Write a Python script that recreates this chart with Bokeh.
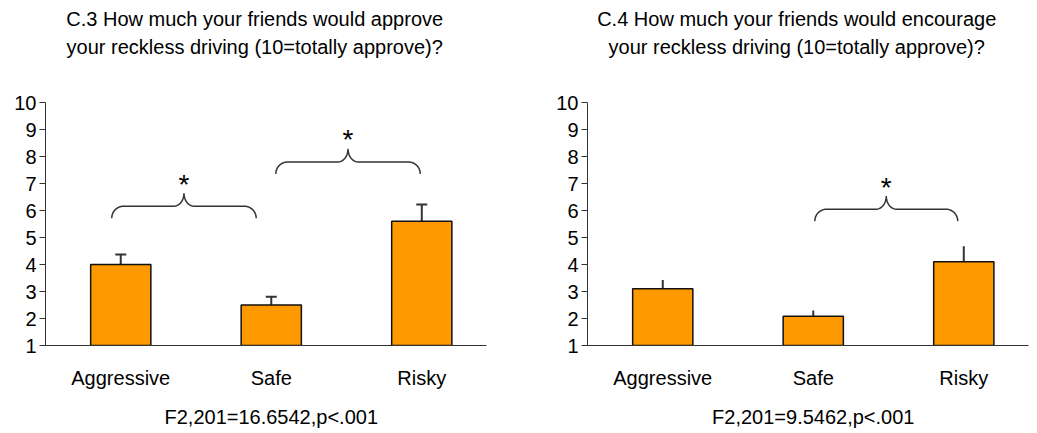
import numpy as np
from bokeh.plotting import figure
from bokeh.layouts import row
from bokeh.models import Range1d, FixedTicker, LinearAxis, Whisker, ColumnDataSource, TeeHead
from bokeh.embed import file_html
from bokeh.resources import INLINE
from bokeh.core.properties import value

# ---------------- data ----------------
categories = ["Aggressive", "Safe", "Risky"]
cat_positions = [0.5, 1.5, 2.5]
y_ticks = [1, 2, 3, 4, 5, 6, 7, 8, 9, 10]

c3_title = ["C.3 How much your friends would approve",
            "your reckless driving (10=totally approve)?"]
c3_means = [4.0, 2.5, 5.6]
c3_err_top = [4.37, 2.81, 6.22]
c3_stat = "F2,201=16.6542,p<.001"
c3_brace_from = [0.44, 1.53]
c3_brace_to = [1.40, 2.49]
c3_brace_level = [6.16, 7.80]

c4_title = ["C.4 How much your friends would encourage",
            "your reckless driving (10=totally approve)?"]
c4_means = [3.1, 2.08, 4.1]
c4_err_top = [3.43, 2.30, 4.68]
c4_stat = "F2,201=9.5462,p<.001"
c4_brace_from = [1.51]
c4_brace_to = [2.46]
c4_brace_level = [6.05]

# ---------------- style ----------------
FONT = "Liberation Sans"
BAR = "#FF9900"
DARK = "#333333"
X_END = 2.93
FRAME_W = 441
FRAME_H = 243
XU = FRAME_W / X_END      # px per x unit
YU = FRAME_H / 9.0        # px per y unit
TITLE_ANCHOR = 1.39       # horizontal centre of the two-line heading (x units)


def brace_path(x0, x1, yh):
    xc = (x0 + x1) / 2
    rx, d = 12 / XU, 12 / YU
    rx2, r2 = 10 / XU, 13 / YU
    t = np.linspace(0, np.pi / 2, 12)
    cx, cy = x0 + rx, yh - d
    xa = cx - rx * np.cos(t)
    ya = cy + d * np.sin(t)
    cx2, cy2 = xc - rx2, yh + r2
    xb = cx2 + rx2 * np.sin(t)
    yb = cy2 - r2 * np.cos(t)
    lx = np.concatenate([xa, xb])
    ly = np.concatenate([ya, yb])
    xs = np.concatenate([lx, (2 * xc - lx)[::-1]])
    ys = np.concatenate([ly, ly[::-1]])
    return list(xs), list(ys)


def text_axis(pos, label, standoff):
    return LinearAxis(ticker=FixedTicker(ticks=[pos]), major_label_overrides={pos: label},
                      axis_line_color=None, major_tick_line_color=None,
                      minor_tick_line_color=None, major_tick_in=0, major_tick_out=0,
                      major_label_standoff=standoff, major_label_text_font=FONT,
                      major_label_text_font_size="20px", major_label_text_color="black")


def make_panel(title, means, err_top, stat, b_from, b_to, b_level, caps,
               width, border_right):
    p = figure(width=width, height=432, output_backend="svg", toolbar_location=None,
               x_range=Range1d(0, X_END), y_range=Range1d(1, 10),
               min_border_left=45, min_border_right=border_right,
               min_border_top=102, min_border_bottom=87)
    p.outline_line_color = None
    p.grid.grid_line_color = None
    p.background_fill_color = "white"
    p.border_fill_color = "white"

    p.vbar(x=cat_positions, top=means, bottom=1, width=0.4,
           fill_color=BAR, line_color="#111111", line_width=1.5)

    src = ColumnDataSource(dict(x=cat_positions, base=means, upper=err_top))
    head = TeeHead(size=11, line_color=DARK, line_width=2) if caps else None
    w = Whisker(source=src, base="x", lower="base", upper="upper", dimension="height",
                line_color=DARK, line_width=2, upper_head=head, lower_head=None)
    p.add_layout(w)

    xs_all, ys_all, sx, sy = [], [], [], []
    for a, b, lv in zip(b_from, b_to, b_level):
        xs, ys = brace_path(a, b, lv)
        xs_all.append(xs)
        ys_all.append(ys)
        sx.append((a + b) / 2)
        sy.append(lv + 0.82)
    p.multi_line(xs_all, ys_all, line_color=DARK, line_width=1.5)
    p.text(x=sx, y=sy, text=["*"] * len(sx), text_align="center",
           text_baseline="alphabetic", text_font=value(FONT), text_font_size="28px",
           text_color="black")

    # y axis
    p.yaxis.ticker = FixedTicker(ticks=y_ticks)
    p.yaxis.minor_tick_line_color = None
    p.yaxis.major_tick_out = 6
    p.yaxis.major_tick_in = 0
    p.yaxis.axis_line_color = DARK
    p.yaxis.major_tick_line_color = DARK
    p.yaxis.major_label_standoff = 3
    p.yaxis.major_label_text_font = FONT
    p.yaxis.major_label_text_font_size = "20px"
    p.yaxis.major_label_text_color = "black"

    # x axis (categories)
    p.xaxis.ticker = FixedTicker(ticks=cat_positions)
    p.xaxis.major_label_overrides = {pos: c for pos, c in zip(cat_positions, categories)}
    p.xaxis.minor_tick_line_color = None
    p.xaxis.major_tick_line_color = None
    p.xaxis.major_tick_out = 0
    p.xaxis.major_tick_in = 0
    p.xaxis.axis_line_color = DARK
    p.xaxis.major_label_standoff = 21
    p.xaxis.major_label_text_font = FONT
    p.xaxis.major_label_text_font_size = "20px"
    p.xaxis.major_label_text_color = "black"

    # two-line heading: second line nearest the plot
    p.add_layout(text_axis(TITLE_ANCHOR, title[1], 45), "above")
    p.add_layout(text_axis(TITLE_ANCHOR, title[0], 3), "above")
    # statistic under the middle category
    p.add_layout(text_axis(cat_positions[1], stat, 14), "below")
    return p


p1 = make_panel(c3_title, c3_means, c3_err_top, c3_stat,
                c3_brace_from, c3_brace_to, c3_brace_level, True, 542, 56)
p2 = make_panel(c4_title, c4_means, c4_err_top, c4_stat,
                c4_brace_from, c4_brace_to, c4_brace_level, False, 494, 8)

layout = row(p1, p2)
open("out.html", "w").write(file_html(layout, INLINE))
